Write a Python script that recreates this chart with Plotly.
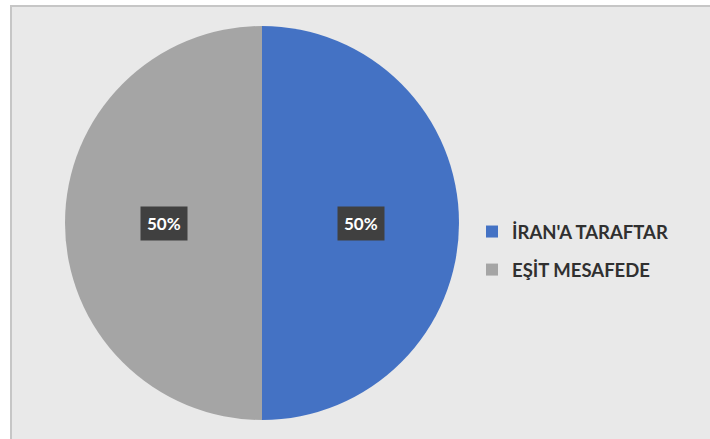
import math
import plotly.graph_objects as go

labels = ["İRAN'A TARAFTAR", "EŞİT MESAFEDE"]
values = [50, 50]
colors = ["#4472c4", "#a5a5a5"]

W, H = 710, 439
cx_px, cy_px, r_px = 262, 223, 197

fig = go.Figure()

fig.add_trace(go.Pie(
    labels=labels, values=values, sort=False, direction="clockwise", rotation=0,
    marker=dict(colors=colors, line=dict(width=0)),
    textinfo="none", hoverinfo="label+percent", showlegend=False,
    domain=dict(x=[(cx_px - r_px) / W, (cx_px + r_px) / W],
                y=[1 - (cy_px + r_px) / H, 1 - (cy_px - r_px) / H]),
))

# legend entries
for i, (lab, col) in enumerate(zip(labels, colors)):
    fig.add_trace(go.Scatter(
        x=[None], y=[None], mode="markers", name=lab, legendgroup=f"g{i}",
        marker=dict(symbol="square", size=11, color=col),
    ))

# data labels
total = sum(values)
cum = 0
for v in values:
    mid = (cum + v / 2) / total * 2 * math.pi
    cum += v
    ax = (cx_px + 0.5 * r_px * math.sin(mid)) / W
    ay = 1 - (cy_px - 0.5 * r_px * math.cos(mid)) / H
    fig.add_annotation(
        x=ax, y=ay, xref="paper", yref="paper", showarrow=False,
        xanchor="center", yanchor="middle",
        text=f"{v / total * 100:.0f}%",
        font=dict(family="Lato", size=17, color="white", weight="bold"),
        bgcolor="#404040", borderpad=6,
    )

fig.add_shape(type="rect", xref="paper", yref="paper",
              x0=11 / W, x1=1.2, y0=-0.2, y1=1 - 6 / H,
              fillcolor="#e9e9e9", line=dict(color="#c6c6c6", width=2), layer="below")

fig.update_layout(
    width=W, height=H, margin=dict(l=0, r=0, t=0, b=0),
    paper_bgcolor="white", plot_bgcolor="rgba(0,0,0,0)",
    xaxis=dict(visible=False), yaxis=dict(visible=False),
    legend=dict(x=472 / W, y=1 - 251 / H, xanchor="left", yanchor="middle",
                tracegroupgap=11, bgcolor="rgba(0,0,0,0)",
                font=dict(family="Lato", size=18.5, color="#303030", weight="bold"),
                itemsizing="constant"),
)

fig.write_html("out.html", config={"displayModeBar": False},
               post_script="document.body.style.margin='0';")
